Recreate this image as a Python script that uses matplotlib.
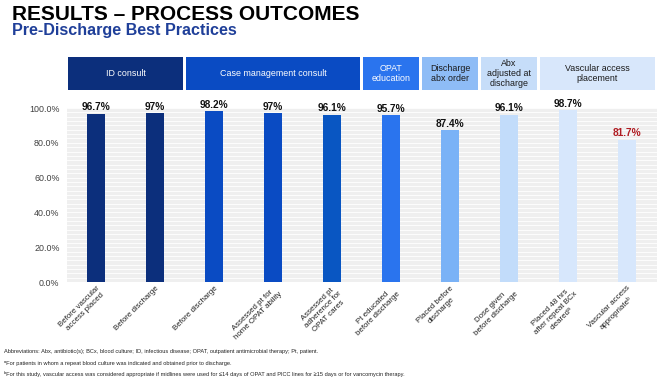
import matplotlib
matplotlib.use("Agg")
import matplotlib.pyplot as plt
import matplotlib.transforms as mtransforms
from matplotlib.patches import Rectangle
import numpy as np

plt.rcParams['font.family'] = ['Liberation Sans', 'DejaVu Sans']

# Datos
labels = ["Before vascular\naccess placed", "Before discharge", "Before discharge",
          "Assessed pt for\nhome OPAT ability", "Assessed pt\nadherence for\nOPAT cares",
          "Pt educated\nbefore discharge", "Placed before\ndischarge",
          "Dose given\nbefore discharge", "Placed 48 hrs\nafter repeat BCx\nclearedᵃ",
          "Vascular access\nappropriateᵇ"]
values = [96.7, 97, 98.2, 97, 96.1, 95.7, 87.4, 96.1, 98.7, 81.7]
value_text = ["96.7%", "97%", "98.2%", "97%", "96.1%", "95.7%", "87.4%", "96.1%", "98.7%", "81.7%"]
bar_colors = ["#0c2f7c", "#0c2f7c", "#0a4bc3", "#0a4bc3", "#0956c2", "#2a74ee",
              "#7ab2f6", "#c2dcfa", "#d7e7fc", "#d7e7fc"]

groups = ["ID consult", "Case management consult", "OPAT\neducation", "Discharge\nabx order",
          "Abx\nadjusted at\ndischarge", "Vascular access\nplacement"]
group_span = [(0, 1), (2, 4), (5, 5), (6, 6), (7, 7), (8, 9)]
group_colors = ["#0c2f7c", "#0a4bc3", "#2a74ee", "#8ebcf6", "#c6ddf9", "#d8e7fb"]
group_text_colors = ["white", "white", "white", "#1a1a1a", "#1a1a1a", "#1a1a1a"]

fig = plt.figure(figsize=(6.6, 3.8), dpi=100)
ax = fig.add_axes([66.5 / 660, 1 - 282 / 380, 590 / 660, 174 / 380])

x = np.arange(len(values))
ax.set_facecolor("#efefef")
ax.bar(x, values, width=0.32, color=bar_colors, zorder=3)

# lineas de grilla finas
for yy in np.arange(0, 100.1, 2.5):
    ax.axhline(yy, color="white", lw=0.6, zorder=1)

for i, v in enumerate(values):
    c = "#b01c22" if i == 9 else "#111111"
    ax.text(i, v + 0.8, value_text[i], ha="center", va="bottom", fontsize=7.3,
            fontweight="bold", color=c, zorder=4)

ax.set_xlim(-0.5, 9.5)
ax.set_ylim(0, 100)
ax.set_yticks(np.arange(0, 101, 20))
ax.set_yticklabels(["%.1f%%" % t for t in np.arange(0, 101, 20)], fontsize=6.4, color="#404040")
ax.set_xticks(x)
ax.set_xticklabels(labels, rotation=45, ha="right", va="top", rotation_mode="anchor",
                   fontsize=5.7, color="#222222", multialignment="center")
ax.tick_params(axis="both", length=0)
ax.tick_params(axis="y", pad=5)
ax.tick_params(axis="x", pad=2)
for s in ax.spines.values():
    s.set_visible(False)

# cajas de encabezado
trans = mtransforms.blended_transform_factory(ax.transData, fig.transFigure)
for g, (a, b), fc, tc in zip(groups, group_span, group_colors, group_text_colors):
    x0 = a - 0.5 + 0.02
    w = b - a + 1 - 0.04
    r = Rectangle((x0, 1 - 90 / 380), w, 33 / 380, transform=trans, facecolor=fc,
                  edgecolor="none", clip_on=False)
    fig.add_artist(r)
    fig.text(x0 + w / 2, 1 - 73.5 / 380, g, transform=trans, fontsize=6.4, color=tc,
             ha="center", va="center", linespacing=1.1)

fig.text(12 / 660, 1 - 5 / 380, "RESULTS – PROCESS OUTCOMES", fontsize=15,
         fontweight="bold", color="black", ha="left", va="top")
fig.text(12 / 660, 1 - 23 / 380, "Pre-Discharge Best Practices", fontsize=11.6,
         fontweight="bold", color="#1f3f99", ha="left", va="top")

notes = ["Abbreviations: Abx, antibiotic(s); BCx, blood culture; ID, infectious disease; OPAT, outpatient antimicrobial therapy; Pt, patient.",
         "ᵃFor patients in whom a repeat blood culture was indicated and obtained prior to discharge.",
         "ᵇFor this study, vascular access was considered appropriate if midlines were used for ≤14 days of OPAT and PICC lines for ≥15 days or for vancomycin therapy."]
for k, n in enumerate(notes):
    fig.text(4 / 660, 1 - (352 + 11 * k) / 380, n, fontsize=4.1, color="#222222",
             ha="left", va="center")

fig.savefig("out.png", dpi=100)
